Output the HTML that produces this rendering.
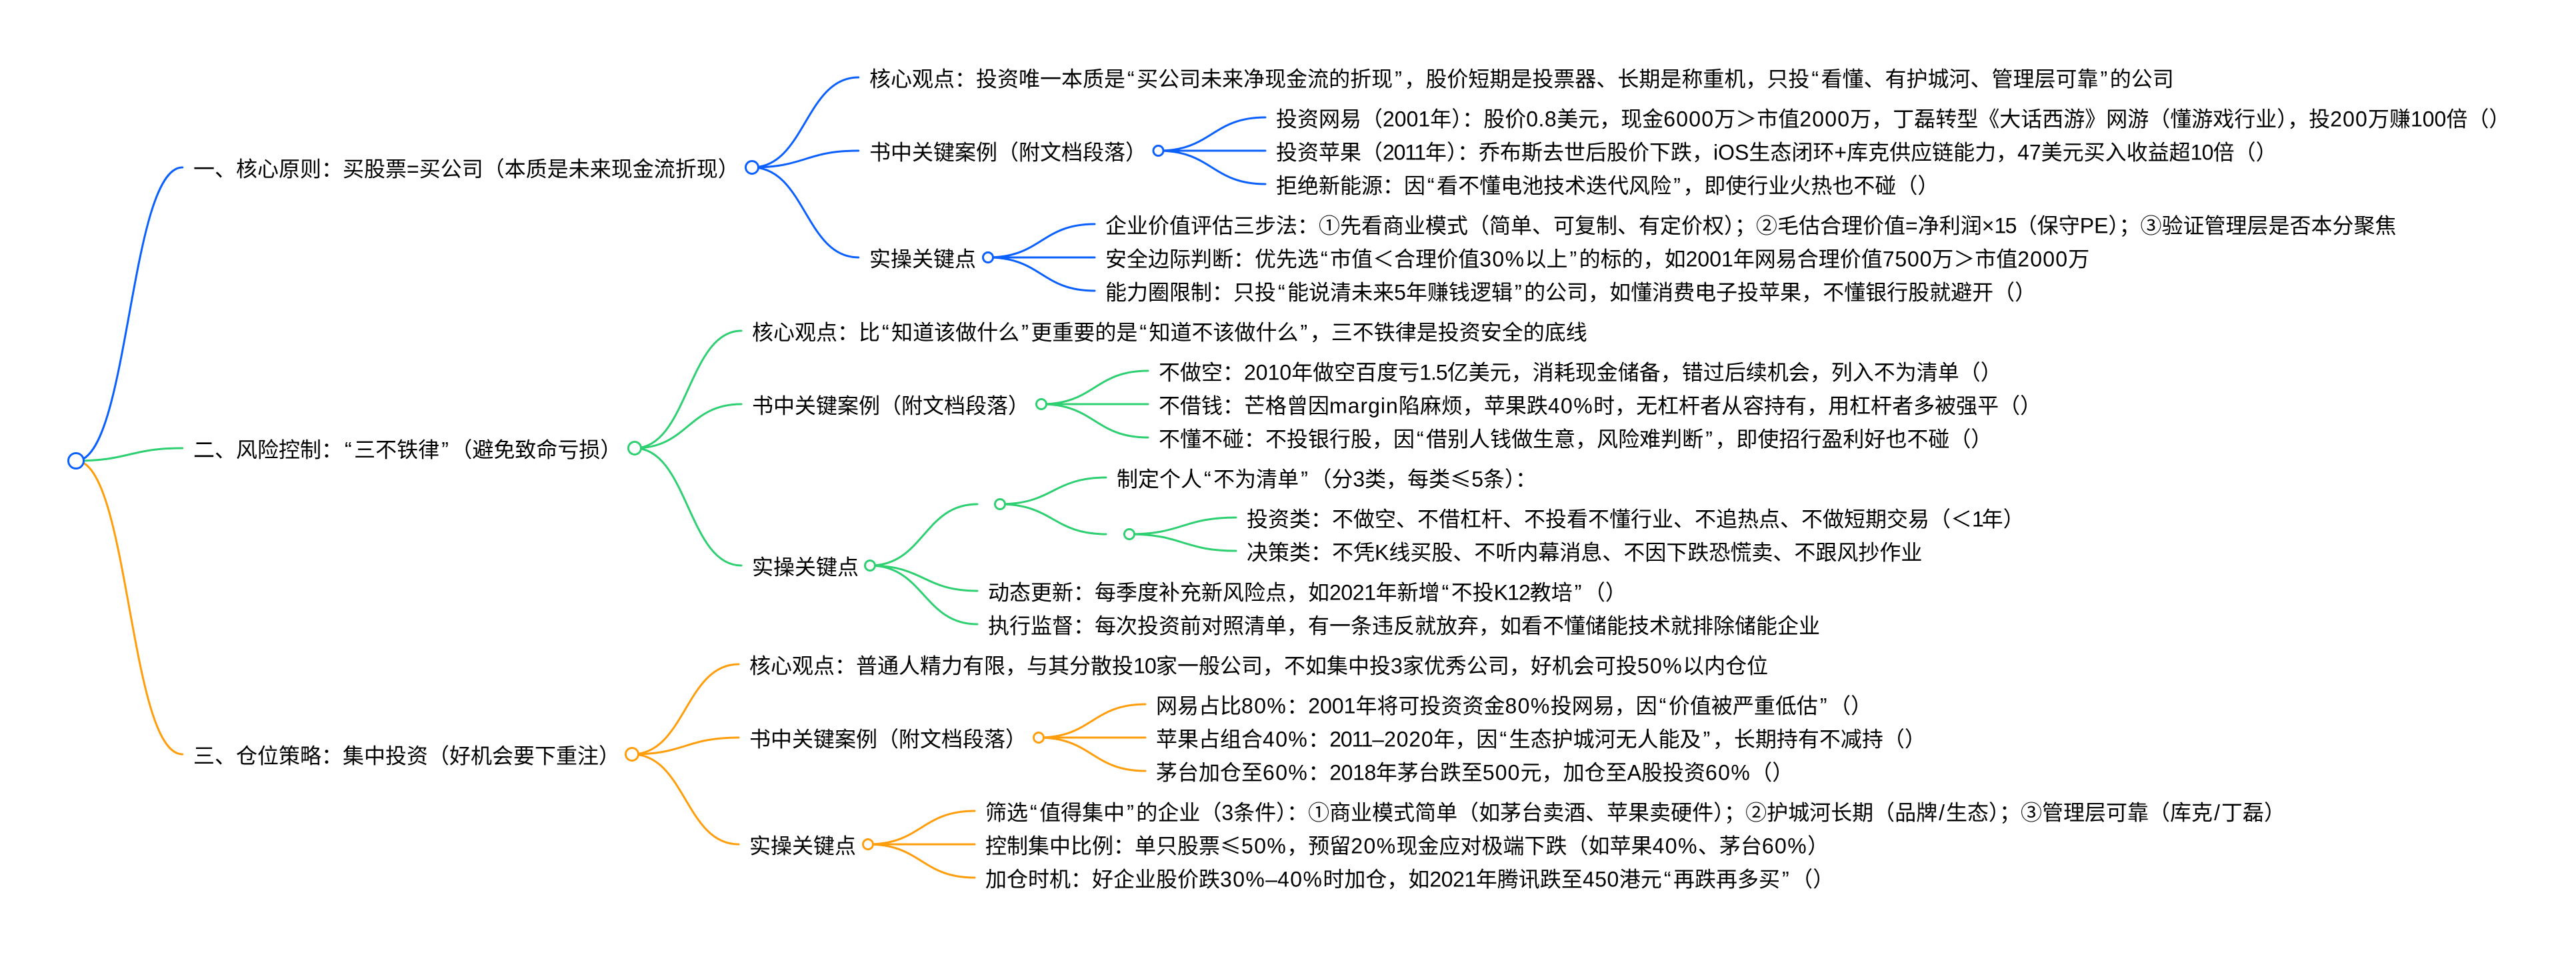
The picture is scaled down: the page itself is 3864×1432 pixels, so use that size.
<!DOCTYPE html>
<html lang="zh-CN">
<head>
<meta charset="utf-8">
<title>Mind map</title>
<style>
html,body{margin:0;padding:0;background:#fff;width:3864px;height:1432px;overflow:hidden}
svg{display:block}
text{font-family:"Liberation Sans","Noto Sans CJK SC",sans-serif;font-size:32px;fill:#000}
.n{font-family:"Noto Sans CJK SC",sans-serif}
path{fill:none;stroke-width:3;stroke-linecap:round}
circle{fill:#fff;stroke-width:3}
.b path,.b circle{stroke:#0a5fff}
.g path,.g circle{stroke:#2ed072}
.o path,.o circle{stroke:#ff9d0a}
.q{letter-spacing:3.5px}
.s5{letter-spacing:.5px}
.s8{letter-spacing:.8px}
.s11{letter-spacing:1.1px}
.s12{letter-spacing:1.2px}
.s14{letter-spacing:1.4px}
.n4{letter-spacing:-.4px}
.n8{letter-spacing:-.8px}
.n10{letter-spacing:-1px}
.n12{letter-spacing:-1.2px}
.n16{letter-spacing:-1.6px}
.n32{letter-spacing:-3.2px}
.m{letter-spacing:1px}
.sl{letter-spacing:2px}
</style>
</head>
<body>
<svg width="3864" height="1432" viewBox="0 0 3864 1432" xmlns="http://www.w3.org/2000/svg">
<g class="o">
<path d="M114 691C193.85 691 193.85 1131 273.7 1131"/>
<path d="M948 1131C1028 1131 1028 996 1108 996"/>
<path d="M948 1131C1028 1131 1028 1106 1108 1106"/>
<path d="M948 1131C1028 1131 1028 1266 1108 1266"/>
<path d="M1558 1106C1638 1106 1638 1056 1718 1056"/>
<path d="M1558 1106C1638 1106 1638 1106 1718 1106"/>
<path d="M1558 1106C1638 1106 1638 1156 1718 1156"/>
<path d="M1302 1266C1382 1266 1382 1216 1462 1216"/>
<path d="M1302 1266C1382 1266 1382 1266 1462 1266"/>
<path d="M1302 1266C1382 1266 1382 1316 1462 1316"/>
<circle cx="948" cy="1131" r="9.5"/>
<circle cx="1558" cy="1106" r="7.5"/>
<circle cx="1302" cy="1266" r="7.5"/>
</g>
<g class="g">
<path d="M114 691C193.85 691 193.85 672 273.7 672"/>
<path d="M952 672C1032 672 1032 496 1112 496"/>
<path d="M952 672C1032 672 1032 606 1112 606"/>
<path d="M952 672C1032 672 1032 848 1112 848"/>
<path d="M1562 606C1642 606 1642 556 1722 556"/>
<path d="M1562 606C1642 606 1642 606 1722 606"/>
<path d="M1562 606C1642 606 1642 656 1722 656"/>
<path d="M1305 848C1385.5 848 1385.5 756 1466 756"/>
<path d="M1305 848C1385.5 848 1385.5 886 1466 886"/>
<path d="M1305 848C1385.5 848 1385.5 936 1466 936"/>
<path d="M1500 756C1579.5 756 1579.5 716 1659 716"/>
<path d="M1500 756C1579.5 756 1579.5 801 1659 801"/>
<path d="M1694 801C1774 801 1774 776 1854 776"/>
<path d="M1694 801C1774 801 1774 826 1854 826"/>
<circle cx="952" cy="672" r="9.5"/>
<circle cx="1562" cy="606" r="7.5"/>
<circle cx="1305" cy="848" r="7.5"/>
<circle cx="1500" cy="756" r="7.5"/>
<circle cx="1694" cy="801" r="7.5"/>
</g>
<g class="b">
<path d="M114 691C193.85 691 193.85 251 273.7 251"/>
<path d="M1128 251C1207.85 251 1207.85 116 1287.7 116"/>
<path d="M1128 251C1207.85 251 1207.85 226 1287.7 226"/>
<path d="M1128 251C1207.85 251 1207.85 386 1287.7 386"/>
<path d="M1737.5 226C1817.75 226 1817.75 176 1898 176"/>
<path d="M1737.5 226C1817.75 226 1817.75 226 1898 226"/>
<path d="M1737.5 226C1817.75 226 1817.75 276 1898 276"/>
<path d="M1482 386C1562 386 1562 336 1642 336"/>
<path d="M1482 386C1562 386 1562 386 1642 386"/>
<path d="M1482 386C1562 386 1562 436 1642 436"/>
<circle cx="114" cy="691" r="11.5"/>
<circle cx="1128" cy="251" r="9.5"/>
<circle cx="1737.5" cy="226" r="7.5"/>
<circle cx="1482" cy="386" r="7.5"/>
</g>

<text x="290" y="264.5">一、核心原则：买股票=买公司（本质是未来现金流折现）</text>
<text x="1304" y="129.5">核心观点：投资唯一本质是<tspan dx="3" class="q">“</tspan>买公司未来净现金流的折现<tspan dx="3" class="q">”</tspan>，股价短期是投票器、长期是称重机，只投<tspan dx="3" class="q">“</tspan>看懂、有护城河、管理层可靠<tspan dx="3" class="q">”</tspan>的公司</text>
<text x="1304" y="239.5">书中关键案例（附文档段落）</text>
<text x="1914" y="189.5">投资网易（2001年）：股价<tspan class="s5">0.8</tspan>美元，现金<tspan class="s12">6000</tspan>万＞市值<tspan class="s12">2000</tspan>万，丁磊转型《大话西游》网游（懂游戏行业），投<tspan class="s11">200</tspan>万赚100倍（）</text>
<text x="1914" y="239.5">投资苹果（<tspan class="n12">2011</tspan>年）：乔布斯去世后股价下跌，iOS生态闭环+库克供应链能力，47美元买入收益超<tspan class="n8">10</tspan>倍（）</text>
<text x="1914" y="289.5">拒绝新能源：因<tspan dx="3" class="q">“</tspan>看不懂电池技术迭代风险<tspan dx="3" class="q">”</tspan>，即使行业火热也不碰（）</text>
<text x="1304" y="399.5">实操关键点</text>
<text x="1658" y="349.5">企业价值评估三步法：①先看商业模式（简单、可复制、有定价权）；②毛估合理价值=净利润×<tspan class="n16">15</tspan>（保守PE）；③验证管理层是否本分聚焦</text>
<text x="1658" y="399.5">安全边际判断：优先选<tspan dx="3" class="q">“</tspan>市值＜合理价值<tspan class="s14">30%</tspan>以上<tspan dx="3" class="q">”</tspan>的标的，如2001年网易合理价值<tspan class="s8">7500</tspan>万＞市值<tspan class="s12">2000</tspan>万</text>
<text x="1658" y="449.5">能力圈限制：只投<tspan dx="3" class="q">“</tspan>能说清未来5年赚钱逻辑<tspan dx="3" class="q">”</tspan>的公司，如懂消费电子投苹果，不懂银行股就避开（）</text>

<text x="290" y="685.5">二、风险控制：<tspan dx="3" class="q">“</tspan>三不铁律<tspan dx="3" class="q">”</tspan><tspan dx="16">（</tspan>避免致命亏损）</text>
<text x="1128" y="509.5">核心观点：比<tspan dx="3" class="q">“</tspan>知道该做什么<tspan dx="3" class="q">”</tspan>更重要的是<tspan dx="3" class="q">“</tspan>知道不该做什么<tspan dx="3" class="q">”</tspan>，三不铁律是投资安全的底线</text>
<text x="1128" y="619.5">书中关键案例（附文档段落）</text>
<text x="1738" y="569.5">不做空：2010年做空百度亏<tspan class="n10">1.5</tspan>亿美元，消耗现金储备，错过后续机会，列入不为清单（）</text>
<text x="1738" y="619.5">不借钱：芒格曾因<tspan class="m">margin</tspan>陷麻烦，苹果跌<tspan class="s14">40%</tspan>时，无杠杆者从容持有，用杠杆者多被强平（）</text>
<text x="1738" y="669.5">不懂不碰：不投银行股，因<tspan dx="3" class="q">“</tspan>借别人钱做生意，风险难判断<tspan dx="3" class="q">”</tspan>，即使招行盈利好也不碰（）</text>
<text x="1128" y="861.5">实操关键点</text>
<text x="1675" y="729.5">制定个人<tspan dx="3" class="q">“</tspan>不为清单<tspan dx="3" class="q">”</tspan><tspan dx="16">（</tspan>分3类，每类<tspan class="n">≤</tspan>5条）：</text>
<text x="1870" y="789.5">投资类：不做空、不借杠杆、不投看不懂行业、不追热点、不做短期交易（＜<tspan class="n32">1</tspan>年）</text>
<text x="1870" y="839.5">决策类：不凭K线买股、不听内幕消息、不因下跌恐慌卖、不跟风抄作业</text>
<text x="1482" y="899.5">动态更新：每季度补充新风险点，如<tspan class="n4">2021</tspan>年新增<tspan dx="3" class="q">“</tspan>不投<tspan class="n10">K12</tspan>教培<tspan dx="3" class="q">”</tspan><tspan dx="16">（</tspan>）</text>
<text x="1482" y="949.5">执行监督：每次投资前对照清单，有一条违反就放弃，如看不懂储能技术就排除储能企业</text>

<text x="290" y="1144.5">三、仓位策略：集中投资（好机会要下重注）</text>
<text x="1124" y="1009.5">核心观点：普通人精力有限，与其分散投<tspan class="n8">10</tspan>家一般公司，不如集中投3家优秀公司，好机会可投<tspan class="s14">50%</tspan>以内仓位</text>
<text x="1124" y="1119.5">书中关键案例（附文档段落）</text>
<text x="1734" y="1069.5">网易占比<tspan class="s14">80%</tspan>：2001年将可投资资金<tspan class="s14">80%</tspan>投网易，因<tspan dx="3" class="q">“</tspan>价值被严重低估<tspan dx="3" class="q">”</tspan><tspan dx="16">（</tspan>）</text>
<text x="1734" y="1119.5">苹果占组合<tspan class="s14">40%</tspan>：<tspan class="n12">2011</tspan>–<tspan class="s8">2020</tspan>年，因<tspan dx="3" class="q">“</tspan>生态护城河无人能及<tspan dx="3" class="q">”</tspan>，长期持有不减持（）</text>
<text x="1734" y="1169.5">茅台加仓至<tspan class="s14">60%</tspan>：<tspan class="n4">2018</tspan>年茅台跌至<tspan class="s11">500</tspan>元，加仓至A股投资<tspan class="s14">60%</tspan>（）</text>
<text x="1124" y="1279.5">实操关键点</text>
<text x="1478" y="1229.5">筛选<tspan dx="3" class="q">“</tspan>值得集中<tspan dx="3" class="q">”</tspan>的企业（3条件）：①商业模式简单（如茅台卖酒、苹果卖硬件）；②护城河长期（品牌<tspan dx="2" class="sl">/</tspan>生态）；③管理层可靠（库克<tspan dx="2" class="sl">/</tspan>丁磊）</text>
<text x="1478" y="1279.5">控制集中比例：单只股票<tspan class="n">≤</tspan><tspan class="s14">50%</tspan>，预留<tspan class="s14">20%</tspan>现金应对极端下跌（如苹果<tspan class="s14">40%</tspan>、茅台<tspan class="s14">60%</tspan>）</text>
<text x="1478" y="1329.5">加仓时机：好企业股价跌<tspan class="s14">30%</tspan>–<tspan class="s14">40%</tspan>时加仓，如<tspan class="n4">2021</tspan>年腾讯跌至<tspan class="s5">450</tspan>港元<tspan dx="3" class="q">“</tspan>再跌再多买<tspan dx="3" class="q">”</tspan><tspan dx="16">（</tspan>）</text>
</svg>
</body>
</html>
